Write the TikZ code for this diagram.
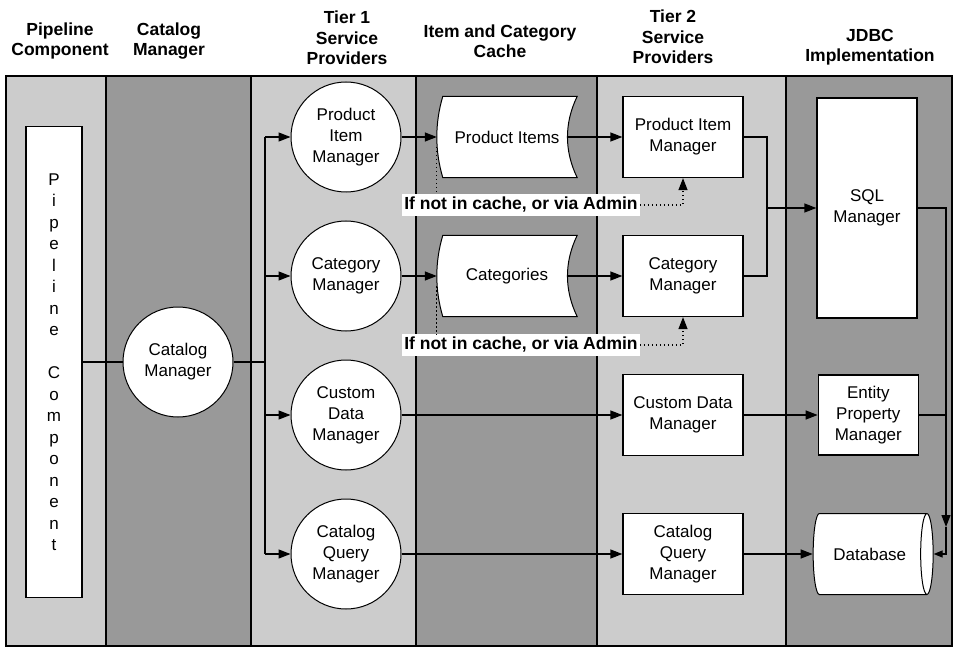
\documentclass[tikz,border=0pt]{standalone}
\usepackage{fontspec}
\setmainfont{Liberation Sans}
\usetikzlibrary{
    arrows.meta,
    positioning,
    calc,
    backgrounds,
    shapes.geometric
}

\definecolor{lanelight}{gray}{0.8}
\definecolor{lanedark}{gray}{0.6}

\begin{document}
\begin{tikzpicture}[
        x=1pt, y=-1pt,
        node distance=28pt,
        every node/.style={font=\fontsize{17}{21}\selectfont},
        lane/.style={draw=black, line width=1.2pt},
        header/.style={
            font=\fontsize{17.5}{20.5}\selectfont\bfseries,
            align=center
        },
        proc/.style={
            circle,
            draw=black,
            fill=white,
            line width=1pt,
            minimum size=110pt,
            inner sep=0pt,
            align=center
        },
        block/.style={
            rectangle,
            draw=black,
            fill=white,
            line width=1.3pt,
            minimum width=120pt,
            minimum height=81pt,
            inner sep=2pt,
            align=center
        },
        store/.style={
            minimum width=140pt,
            minimum height=81pt,
            inner sep=0pt,
            align=center
        },
        storeline/.style={draw=black, fill=white, line width=1pt},
        dbase/.style={
            cylinder,
            shape border rotate=0,
            aspect=1,
            draw=black,
            fill=white,
            line width=1pt,
            minimum width=81pt,
            minimum height=120pt,
            inner sep=0pt
        },
        remark/.style={
            fill=white,
            font=\fontsize{17.5}{21}\selectfont\bfseries,
            inner xsep=2pt,
            inner ysep=3pt
        },
        wire/.style={line width=1.3pt, draw=black},
        arrow/.style={
            -{Triangle[length=12pt,width=9pt]},
            line width=1.3pt,
            draw=black
        },
        tiparrow/.style={
            -{Triangle[length=9pt,width=7pt]},
            line width=1.3pt,
            draw=black
        },
        dotline/.style={line width=1.2pt, dash pattern=on 1.5pt off 2.5pt},
        dotarrow/.style={arrow, dash pattern=on 1.5pt off 2.5pt}
    ]
        \useasboundingbox (0,0) rectangle (953,647);

        % Swim lanes
        \begin{scope}[on background layer]
            \foreach \xa/\xb/\col in {6/106/lanelight, 106/251/lanedark,
                    251/416/lanelight, 416/597/lanedark,
                    597/786/lanelight, 786/952/lanedark}
                \draw[lane, fill=\col] (\xa,76) rectangle (\xb,646);
        \end{scope}

        % Lane headers
        \node[header] (hpipe) at (60,41) {Pipeline\\Component};
        \node[header] (hcat) at (169,41) {Catalog\\Manager};
        \node[header] (htierone) at (347,38) {Tier 1\\Service\\Providers};
        \node[header] (hcache) at (500,41) {Item and Category\\Cache};
        \node[header] (htiertwo) at (673,37) {Tier 2\\Service\\Providers};
        \node[header] (hjdbc) at (870,47) {JDBC\\Implementation};

        % Pipeline and catalog manager
        \node[block, minimum width=56pt, minimum height=471pt, inner sep=0pt,
            font=\fontsize{17}{21.5}\selectfont] (pipe) at (54,362)
            {P\\i\\p\\e\\l\\i\\n\\e\\[21.5pt]C\\o\\m\\p\\o\\n\\e\\n\\t};
        \node[proc] (catmgr) at (178,362) {Catalog\\Manager};

        % Tier 1 service providers
        \node[proc] (t1pim) at (346,137) {Product\\Item\\Manager};
        \node[proc, below=of t1pim] (t1cat) {Category\\Manager};
        \node[proc, below=of t1cat] (t1cdm) {Custom\\Data\\Manager};
        \node[proc, below=of t1cdm] (t1cqm) {Catalog\\Query\\Manager};

        % Item and category cache
        \node[store] (items) at (507,137) {Product Items};
        \node[store] (cats) at (t1cat -| items) {Categories};

        % Tier 2 service providers
        \node[block] (t2pim) at (683,137) {Product Item\\Manager};
        \node[block] (t2cat) at (t1cat -| t2pim) {Category\\Manager};
        \node[block] (t2cdm) at (t1cdm -| t2pim) {Custom Data\\Manager};
        \node[block] (t2cqm) at (t1cqm -| t2pim) {Catalog\\Query\\Manager};

        % JDBC implementation
        \node[block, minimum width=100pt, minimum height=220pt] (sql)
            at (867,208) {SQL\\Manager};
        \node[block, minimum width=100pt, minimum height=80pt,
            right=74pt of t2cdm] (entity) {Entity\\Property\\Manager};
        \node[dbase, right=69pt of t2cqm] (db) {Database};

        \node[remark] (lbla) at (521,205) {If not in cache, or via Admin};
        \node[remark] (lblb) at (521,345) {If not in cache, or via Admin};

        \begin{scope}[on background layer]
            \foreach \c in {items,cats}
                \draw[storeline] ($(\c.north west)+(6,0)$)
                    .. controls +(-8,27) and +(-8,-27) .. ($(\c.south west)+(6,0)$)
                    -- (\c.south east)
                    .. controls +(-13,-27) and +(-13,27) .. (\c.north east)
                    -- cycle;
        \end{scope}

        % Connectors
        \coordinate (bus) at (265,362);
        \draw[wire] (pipe.east) -- (catmgr.west);
        \draw[wire] (catmgr.east) -- (bus);
        \draw[wire] (bus |- t1pim.west) -- (bus |- t1cqm.west);
        \foreach \n in {t1pim,t1cat,t1cdm,t1cqm}
            \draw[arrow] (bus |- \n.west) -- (\n.west);

        \draw[arrow] (t1pim.east) -- (items.west);
        \draw[arrow] (t1cat.east) -- (cats.west);
        \draw[arrow] ([xshift=-10pt]items.east) -- (t2pim.west);
        \draw[arrow] ([xshift=-10pt]cats.east) -- (t2cat.west);
        \draw[arrow] (t1cdm.east) -- (t2cdm.west);
        \draw[arrow] (t1cqm.east) -- (t2cqm.west);

        \coordinate (merge) at (767,208);
        \draw[wire] (t2pim.east) -| (merge);
        \draw[wire] (t2cat.east) -| (merge);
        \draw[arrow] (merge) -- (sql.west);
        \draw[arrow] (t2cdm.east) -- (entity.west);
        \draw[arrow] (t2cqm.east) -- (db.west);

        \coordinate (dbdrop) at (946,527);
        \draw[arrow] (sql.east) -| (dbdrop);
        \draw[wire] (entity.east) -- (entity.east -| dbdrop);
        \draw[tiparrow] (dbdrop) |- (db.east);

        % Cache miss paths
        \draw[dotline] ([yshift=-10pt]items.west) -- (items.west |- lbla.north);
        \draw[dotarrow] (lbla.east) -| (t2pim.south);
        \draw[dotline] ([yshift=-10pt]cats.west) -- (cats.west |- lblb.north);
        \draw[dotarrow] (lblb.east) -| (t2cat.south);
    \end{tikzpicture}
\end{document}
